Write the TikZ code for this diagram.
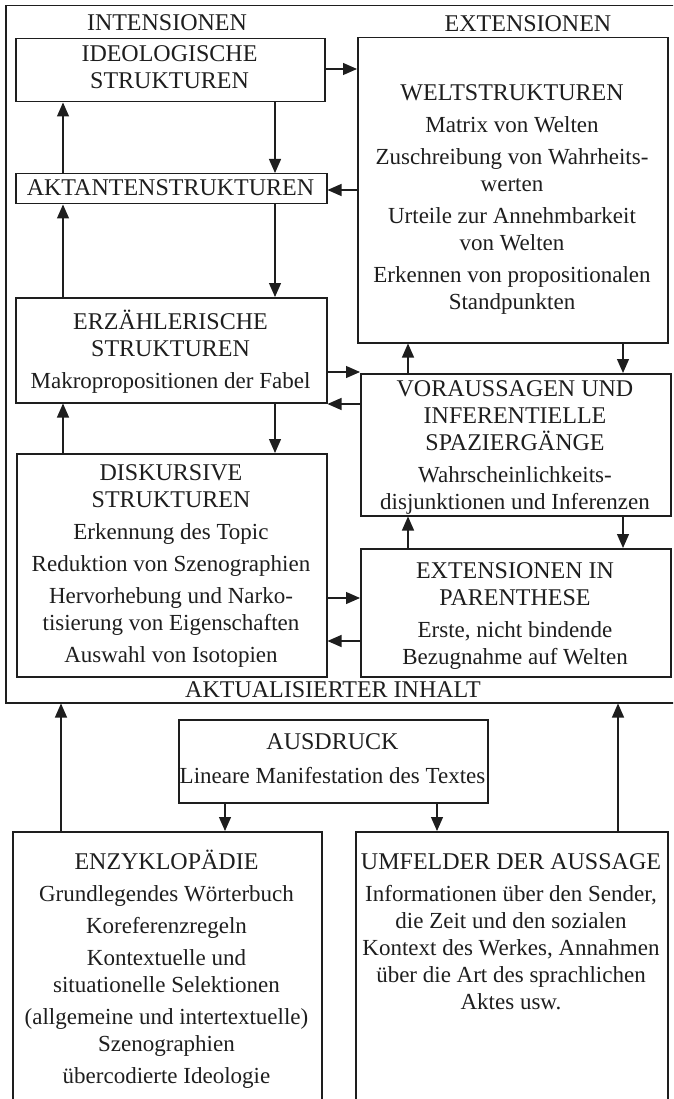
\documentclass[tikz,border=0pt]{standalone}
\usepackage{fontspec}
\setmainfont{Liberation Serif}
\usetikzlibrary{arrows.meta}
\definecolor{ink}{RGB}{30,30,30}
\newcommand\cp[1]{{\fontsize{24}{27}\selectfont #1}}
\begin{document}
\begin{tikzpicture}[x=1pt,y=-1pt,
  box/.style={draw=ink, line width=1.5pt, inner sep=0pt, anchor=north west},
  txt/.style={align=center, inner sep=0pt, text=ink, font=\fontsize{23}{27}\selectfont, anchor=base},
  arr/.style={draw=ink, line width=1.2pt, -{Triangle[length=14pt,width=12pt]}}]
\useasboundingbox (0,0) rectangle (673,1099);
\clip (0,0) rectangle (673,1099);
\fill[white] (0,0) rectangle (673,1099);
% boxes
\node[box, minimum width=685pt, minimum height=697pt] (frame) at (5,5) {};
\node[box, minimum width=309pt, minimum height=63pt]  (ideo) at (15,38) {};
\node[box, minimum width=310pt, minimum height=305pt] (welt) at (357,37) {};
\node[box, minimum width=311pt, minimum height=30pt]  (akt)  at (15,173) {};
\node[box, minimum width=311pt, minimum height=105pt] (erz)  at (15,297) {};
\node[box, minimum width=310pt, minimum height=142pt] (vor)  at (360,373) {};
\node[box, minimum width=310pt, minimum height=223pt] (disk) at (16,453) {};
\node[box, minimum width=310pt, minimum height=128pt] (par)  at (360,548) {};
\node[box, minimum width=309pt, minimum height=83pt]  (aus)  at (178,719) {};
\node[box, minimum width=309pt, minimum height=289pt] (enzy) at (12,831) {};
\node[box, minimum width=312pt, minimum height=289pt] (umf)  at (355,831) {};
% texts (anchor base = baseline of the last line)
\node[txt] (tInt) at (167,30.6) {\cp{INTENSIONEN}};
\node[txt] (tExt) at (528,31.6) {\cp{EXTENSIONEN}};
\node[txt] (tIdeo) at (169.5,88.6) {\cp{IDEOLOGISCHE}\\\cp{STRUKTUREN}};
\node[txt] (tWelt) at (512,309.6) {\cp{WELTSTRUKTUREN}\\[5pt]Matrix von Welten\\[5pt]Zuschreibung von Wahrheits-\\werten\\[5pt]Urteile zur Annehmbarkeit\\von Welten\\[5pt]Erkennen von propositionalen\\Standpunkten};
\node[txt] (tAkt) at (170.5,195.6) {\cp{AKTANTENSTRUKTUREN}};
\node[txt] (tErz) at (170.5,388.6) {\cp{ERZÄHLERISCHE}\\\cp{STRUKTUREN}\\[5pt]Makropropositionen der Fabel};
\node[txt] (tVor) at (515,509.6) {\cp{VORAUSSAGEN UND}\\\cp{INFERENTIELLE}\\\cp{SPAZIERGÄNGE}\\[5pt]Wahrscheinlichkeits-\\disjunktionen und Inferenzen};
\node[txt] (tDisk) at (171,662.6) {\cp{DISKURSIVE}\\\cp{STRUKTUREN}\\[5pt]Erkennung des Topic\\[5pt]Reduktion von Szenographien\\[5pt]Hervorhebung und Narko-\\tisierung von Eigenschaften\\[5pt]Auswahl von Isotopien};
\node[txt] (tPar) at (515,664.6) {\cp{EXTENSIONEN IN}\\\cp{PARENTHESE}\\[5pt]Erste, nicht bindende\\Bezugnahme auf Welten};
\node[txt] (tAkInh) at (333,697.6) {\cp{AKTUALISIERTER INHALT}};
\node[txt] (tAus) at (332.5,783.6) {\cp{AUSDRUCK}\\[7pt]Lineare Manifestation des Textes};
\node[txt] (tEnzy) at (166.5,1083.6) {\cp{ENZYKLOPÄDIE}\\[5pt]Grundlegendes Wörterbuch\\[5pt]Koreferenzregeln\\[5pt]Kontextuelle und\\situationelle Selektionen\\[5pt](allgemeine und intertextuelle)\\Szenographien\\[5pt]übercodierte Ideologie};
\node[txt] (tUmf) at (511,1009.6) {\cp{UMFELDER DER AUSSAGE}\\[5pt]Informationen über den Sender,\\die Zeit und den sozialen\\Kontext des Werkes, Annahmen\\über die Art des sprachlichen\\Aktes usw.};
% column / row helpers
\coordinate (cL) at (63,0);
\coordinate (cR) at (275,0);
\coordinate (cVL) at (408,0);
\coordinate (cVR) at (623,0);
\coordinate (bL) at (61,0);
\coordinate (bR) at (618,0);
\coordinate (aL) at (225,0);
\coordinate (aR) at (437,0);
\coordinate (r1) at (0,69);
\coordinate (r2) at (0,190);
\coordinate (r3) at (0,372);
\coordinate (r4) at (0,404);
\coordinate (r5) at (0,598);
\coordinate (r6) at (0,641);
% arrows
\draw[arr] (ideo.east |- r1) -- (welt.west |- r1);
\draw[arr] (welt.west |- r2) -- (akt.east |- r2);
\draw[arr] (ideo.south -| cR) -- (akt.north -| cR);
\draw[arr] (akt.north -| cL) -- (ideo.south -| cL);
\draw[arr] (akt.south -| cR) -- (erz.north -| cR);
\draw[arr] (erz.north -| cL) -- (akt.south -| cL);
\draw[arr] (erz.east |- r3) -- (vor.west |- r3);
\draw[arr] (vor.west |- r4) -- (erz.east |- r4);
\draw[arr] (vor.north -| cVL) -- (welt.south -| cVL);
\draw[arr] (welt.south -| cVR) -- (vor.north -| cVR);
\draw[arr] (erz.south -| cR) -- (disk.north -| cR);
\draw[arr] (disk.north -| cL) -- (erz.south -| cL);
\draw[arr] (disk.east |- r5) -- (par.west |- r5);
\draw[arr] (par.west |- r6) -- (disk.east |- r6);
\draw[arr] (par.north -| cVL) -- (vor.south -| cVL);
\draw[arr] (vor.south -| cVR) -- (par.north -| cVR);
\draw[arr] (enzy.north -| bL) -- (frame.south -| bL);
\draw[arr] (umf.north -| bR) -- (frame.south -| bR);
\draw[arr] (aus.south -| aL) -- (enzy.north -| aL);
\draw[arr] (aus.south -| aR) -- (umf.north -| aR);
\end{tikzpicture}
\end{document}
